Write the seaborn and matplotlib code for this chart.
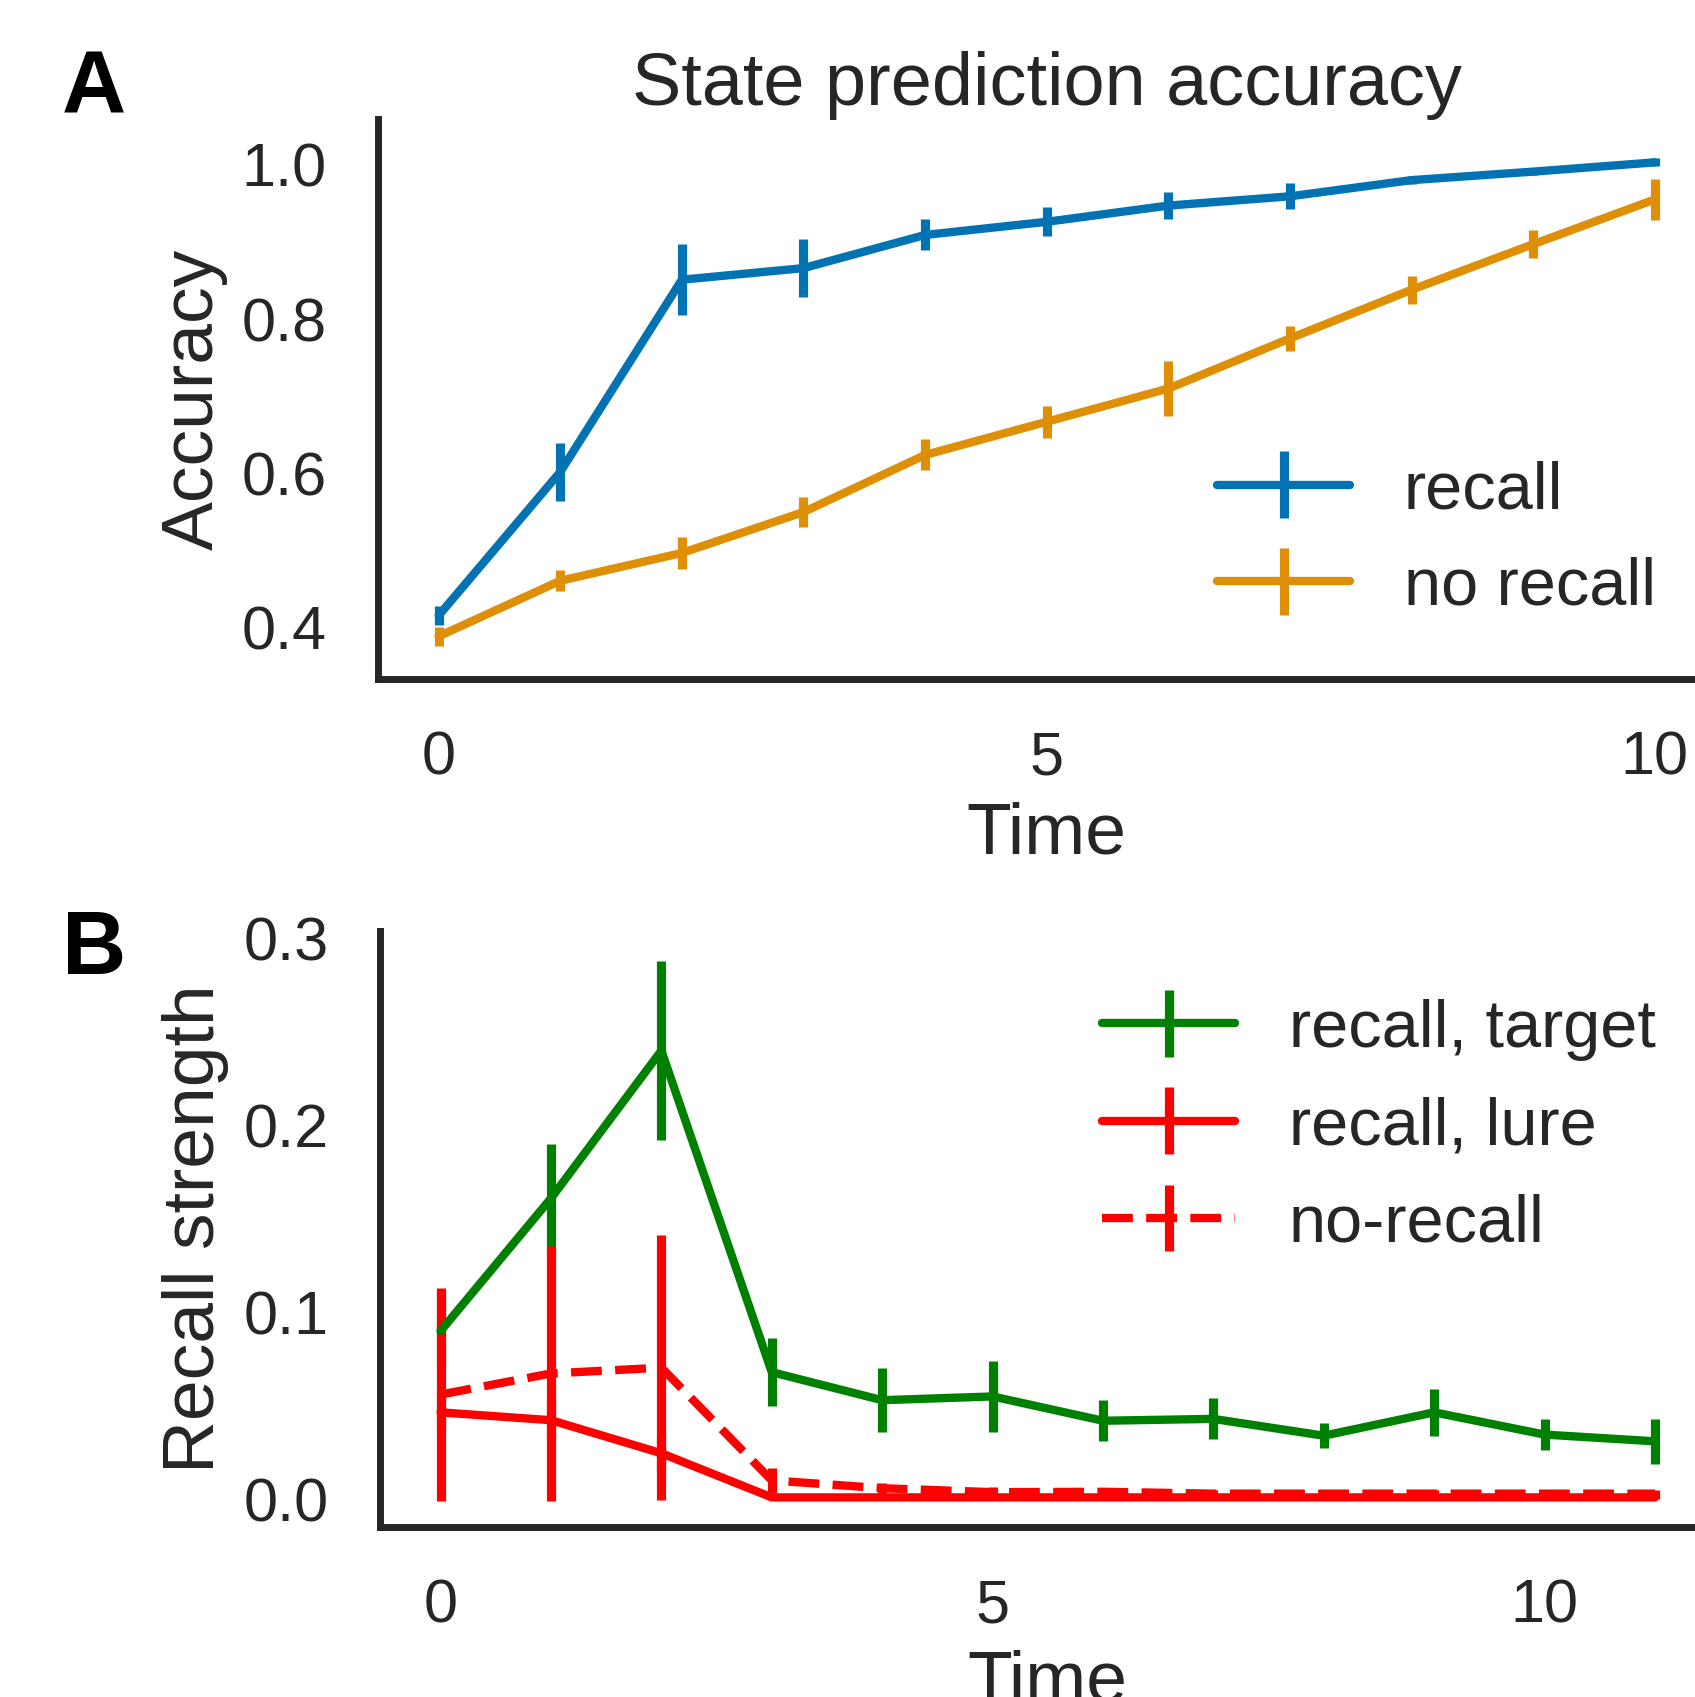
import numpy as np
import matplotlib
matplotlib.use("Agg")
import matplotlib.pyplot as plt
import seaborn as sns

# ---- data ----
time_a = [0, 1, 2, 3, 4, 5, 6, 7, 8, 9, 10]
acc_recall = [0.416, 0.602, 0.851, 0.866, 0.909, 0.926, 0.947, 0.959, 0.980, 0.991, 1.003]
acc_recall_err = [0.0125, 0.038, 0.046, 0.038, 0.020, 0.019, 0.017, 0.017, 0.005, 0.005, 0.005]
acc_norecall = [0.389, 0.461, 0.497, 0.550, 0.624, 0.667, 0.710, 0.775, 0.838, 0.897, 0.955]
acc_norecall_err = [0.012, 0.0135, 0.021, 0.019, 0.020, 0.021, 0.036, 0.016, 0.018, 0.018, 0.027]

time_b = [0, 1, 2, 3, 4, 5, 6, 7, 8, 9, 10, 11]
rs_target = [0.090, 0.161, 0.240, 0.068, 0.053, 0.055, 0.042, 0.043, 0.034, 0.0465, 0.0346, 0.031]
rs_target_err = [0.02, 0.029, 0.048, 0.018, 0.017, 0.019, 0.011, 0.011, 0.0067, 0.0125, 0.0085, 0.012]
rs_lure = [0.0465, 0.0423, 0.0246, 0.001, 0.001, 0.001, 0.001, 0.001, 0.001, 0.001, 0.001, 0.001]
rs_lure_err = [0.01, 0.01, 0.01, 0.001, 0.001, 0.001, 0.001, 0.001, 0.001, 0.001, 0.001, 0.001]
rs_norecall = [0.056, 0.0673, 0.0704, 0.0101, 0.0059, 0.0038, 0.004, 0.003, 0.003, 0.003, 0.003, 0.003]
rs_norecall_err = [0.057, 0.068, 0.071, 0.0067, 0.003, 0.003, 0.002, 0.002, 0.002, 0.002, 0.002, 0.002]

labels_a = ["recall", "no recall"]
labels_b = ["recall, target", "recall, lure", "no-recall"]

# ---- style ----
sns.set_theme(style="white")
plt.rcParams["font.family"] = ["Liberation Sans", "DejaVu Sans"]
plt.rcParams["lines.solid_capstyle"] = "round"
TXT = ".15"
pal = sns.color_palette("colorblind")

fig = plt.figure(figsize=(8.475, 8.485), dpi=200)
axA = fig.add_axes([0.2229, 0.6000, 0.7893, 0.3298])
axB = fig.add_axes([0.2241, 0.1000, 0.7881, 0.3514])

LW = 3.0
ELW = 3.3

axA.errorbar(time_a, acc_recall, yerr=acc_recall_err, color=pal[0], lw=LW,
             elinewidth=ELW, label=labels_a[0])
axA.errorbar(time_a, acc_norecall, yerr=acc_norecall_err, color=pal[1], lw=LW,
             elinewidth=ELW, label=labels_a[1])

axB.errorbar(time_b, rs_target, yerr=rs_target_err, color="green", lw=LW,
             elinewidth=ELW, label=labels_b[0])
axB.errorbar(time_b, rs_lure, yerr=rs_lure_err, color="red", lw=LW,
             elinewidth=ELW, label=labels_b[1])
axB.errorbar(time_b, rs_norecall, yerr=rs_norecall_err, color="red", lw=LW, ls="--",
             elinewidth=ELW, label=labels_b[2])

for ax in (axA, axB):
    sns.despine(ax=ax)
    for s in ("left", "bottom"):
        ax.spines[s].set_linewidth(2.5)
        ax.spines[s].set_color(TXT)
    ax.tick_params(axis="both", length=0, pad=18.5, labelsize=22, labelcolor=TXT)
    ax.set_xticks([0, 5, 10])

axA.set_xlim(-0.5, 10.5)
axA.set_ylim(0.334, 1.059)
axA.set_yticks([0.4, 0.6, 0.8, 1.0])
axA.set_yticklabels(["0.4", "0.6", "0.8", "1.0"])
axA.set_xlabel("Time", fontsize=26.4, color=TXT, labelpad=5)
axA.set_ylabel("Accuracy", fontsize=26.4, color=TXT, labelpad=5)
axA.set_title("State prediction accuracy", fontsize=26.6, color=TXT, pad=5)
axA.legend(loc="lower right", frameon=False, fontsize=24, labelspacing=0.52)

axB.set_xlim(-0.55, 11.55)
axB.set_ylim(-0.015, 0.304)
axB.set_yticks([0.0, 0.1, 0.2, 0.3])
axB.set_yticklabels(["0.0", "0.1", "0.2", "0.3"])
axB.set_xlabel("Time", fontsize=26.4, color=TXT, labelpad=5)
axB.set_ylabel("Recall strength", fontsize=26.4, color=TXT, labelpad=5)
axB.legend(loc="upper right", bbox_to_anchor=(1.0, 0.987), frameon=False,
           fontsize=24, labelspacing=0.53)

fig.text(61.7 / 1695, 1 - 113.7 / 1697, "A", fontsize=32, fontweight="bold",
         color="black", ha="left", va="baseline")
fig.text(61.7 / 1695, 1 - 974.2 / 1697, "B", fontsize=32, fontweight="bold",
         color="black", ha="left", va="baseline")

fig.savefig("out.png", dpi=200)
